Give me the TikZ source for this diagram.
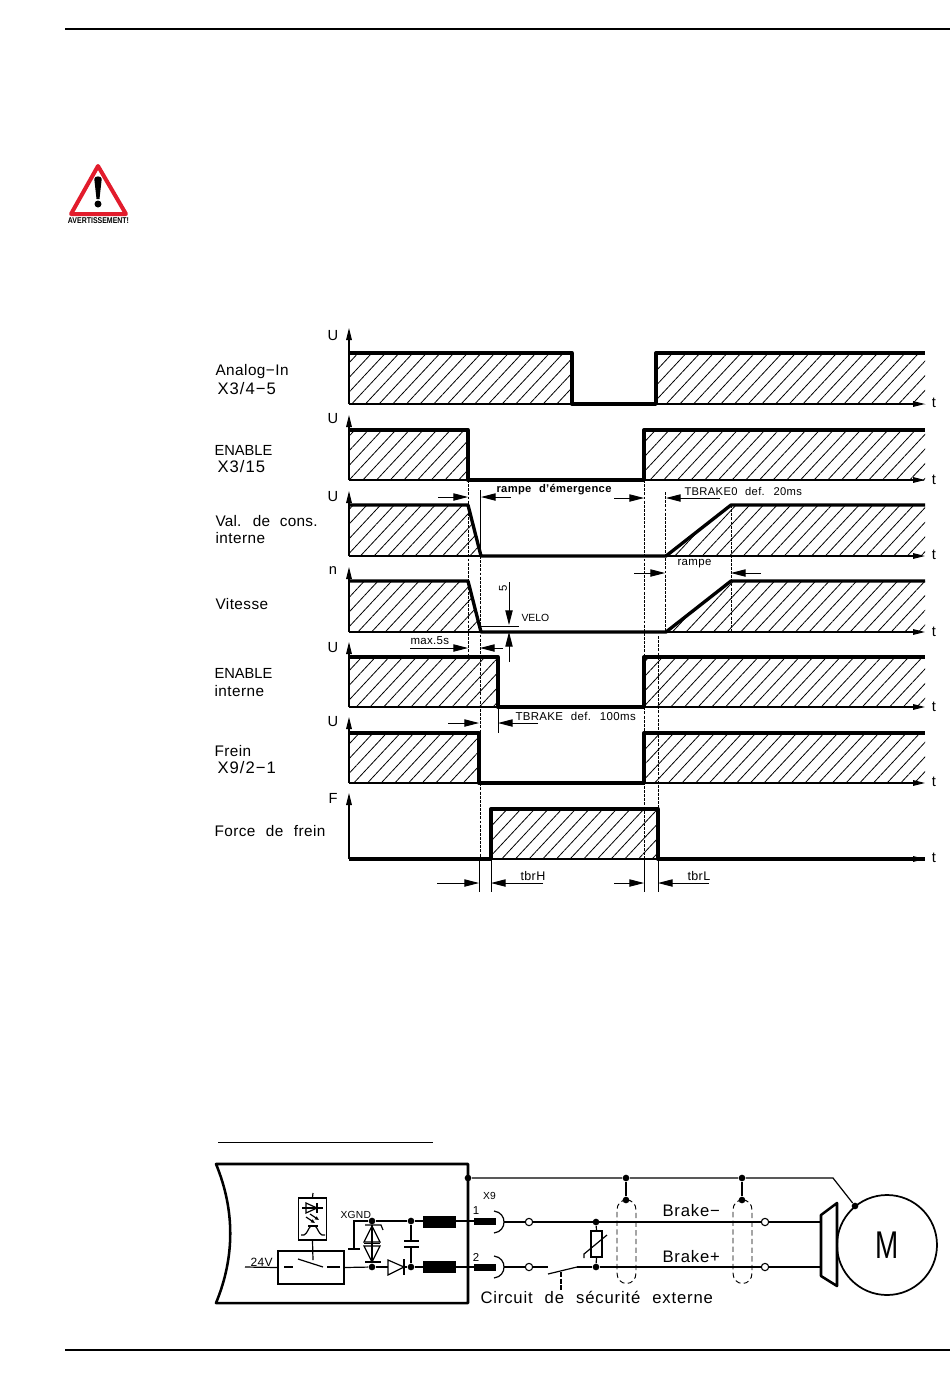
\documentclass[tikz,border=0pt]{standalone}
\usepackage{fontspec}
\setmainfont{Liberation Sans}[WordSpace=2.2,LetterSpace=3]
\newfontfamily\warnfont{Liberation Sans Bold}
\usetikzlibrary{arrows.meta,patterns.meta}
\tikzset{every picture/.style={line width=0.75pt},
  rule/.style={line width=1.5pt},
  wave/.style={line width=2.5pt,line join=round},
  hatch/.style={pattern={Lines[angle=47,distance=7.5pt,line width=0.6pt]},draw=none},
  axisarrow/.style={line width=0.8pt,-{Triangle[length=9pt,width=4.2pt]}},
  guide/.style={line width=0.7pt,dash pattern=on 2.2pt off 0.9pt},
  tick/.style={line width=0.7pt},
  dimarrow/.style={line width=0.7pt,-{Triangle[length=11pt,width=5.5pt]}},
  lbl/.style={anchor=west,inner sep=0pt,font=\fontsize{11.5pt}{13pt}\selectfont},
  lblx/.style={anchor=west,inner sep=0pt,font=\fontsize{12.5pt}{14pt}\selectfont\addfontfeature{LetterSpace=6}},
  lblcaps/.style={anchor=west,inner sep=0pt,font=\fontsize{11pt}{13pt}\selectfont\addfontfeature{LetterSpace=0}},
  lblw/.style={anchor=west,inner sep=0pt,font=\fontsize{12.5pt}{14pt}\selectfont\addfontfeature{LetterSpace=5}},
  small/.style={inner sep=0pt,font=\fontsize{8.6pt}{10pt}\selectfont},
  tiny/.style={inner sep=0pt,font=\fontsize{7.7pt}{9pt}\selectfont},
  axlbl/.style={inner sep=0pt,font=\fontsize{11pt}{13pt}\selectfont},
  wire/.style={line width=0.9pt},
  thickwire/.style={line width=1.9pt,line join=round},
  dot/.style={circle,fill=black,inner sep=0pt,minimum size=5pt},
  term/.style={circle,draw,fill=white,line width=0.8pt,inner sep=0pt,minimum size=5.5pt},
  choke/.style={fill=black,draw=none},
  shield/.style={line width=0.7pt,dashed,dash pattern=on 4pt off 2.5pt}}

\begin{document}
\begin{tikzpicture}[x=0.75pt,y=0.75pt,yscale=-1,xscale=1]
\useasboundingbox (0,0) rectangle (950,1397);

%Page rules
\draw [rule] (65,29) -- (950,29);
\draw [rule] (65,1350) -- (950,1350);

%Warning sign
\draw [draw={rgb,255:red,226;green,28;blue,44},fill=white,line width=3pt,line join=round] (98,166) -- (126,214) -- (71,214) -- cycle;
\fill (94.3,179) .. controls (94.3,175.5) and (101.7,175.5) .. (101.7,179) -- (99.5,199) -- (96.5,199) -- cycle;
\fill (98,204) circle (3.5);
\node (warntext) [inner sep=0pt] at (98.5,221) {\warnfont\fontsize{6.3pt}{7pt}\selectfont\addfontfeature{LetterSpace=0}\scalebox{0.83}[1]{AVERTISSEMENT!}};

%Hatched areas
\fill [hatch] (349,353) rectangle (572,404);
\fill [hatch] (656,353) rectangle (925,404);
\fill [hatch] (349,430) rectangle (468,480);
\fill [hatch] (644,430) rectangle (925,480);
\fill [hatch] (349,505) -- (468,505) -- (481,556) -- (349,556) -- cycle;
\fill [hatch] (666,556) -- (731,505) -- (925,505) -- (925,556) -- cycle;
\fill [hatch] (349,581) -- (468,581) -- (481,632) -- (349,632) -- cycle;
\fill [hatch] (666,632) -- (731,581) -- (925,581) -- (925,632) -- cycle;
\fill [hatch] (349,657) rectangle (498,707);
\fill [hatch] (644,657) rectangle (925,707);
\fill [hatch] (349,733) rectangle (479,783);
\fill [hatch] (644,733) rectangle (925,783);
\fill [hatch] (491,809) rectangle (658,859);

%Axes
\foreach \ybase/\ytop in {404/328,480/415,556/491,632/567,707/642,783/717,859/793}{
  \draw [axisarrow] (349,\ybase) -- (349,\ytop);
  \draw [axisarrow] (349,\ybase) -- (925,\ybase);
}

%Signals
\draw [wave] (349,353) -- (572,353) -- (572,404) -- (656,404) -- (656,353) -- (925,353);
\draw [wave] (349,430) -- (468,430) -- (468,480) -- (644,480) -- (644,430) -- (925,430);
\draw [wave] (349,505) -- (468,505) -- (481,556) -- (666,556) -- (731,505) -- (925,505);
\draw [wave] (349,581) -- (468,581) -- (481,632) -- (666,632) -- (731,581) -- (925,581);
\draw [wave] (349,657) -- (498,657) -- (498,707) -- (644,707) -- (644,657) -- (925,657);
\draw [wave] (349,733) -- (479,733) -- (479,783) -- (644,783) -- (644,733) -- (925,733);
\draw [wave] (349,859) -- (491,859) -- (491,809) -- (658,809) -- (658,859) -- (925,859);

%Guides
\draw [guide] (468,480) -- (468,657);
\draw [tick] (480.5,490) -- (480.5,556);
\draw [guide] (480,556) -- (480,859);
\draw [guide] (644,480) -- (644,859);
\draw [guide] (658,636) -- (658,809);
\draw [guide] (665.5,492) -- (665.5,632);
\draw [guide] (731,505) -- (731,632);
\draw [tick] (498,707) -- (498,733);
\draw [tick] (479.5,859) -- (479.5,892);
\draw [tick] (491,859) -- (491,892);
\draw [tick] (644,859) -- (644,892);
\draw [tick] (658,859) -- (658,892);

%Dimension arrows
\draw [dimarrow] (438,497) -- (468,497);
\draw [dimarrow] (511,497) -- (481,497);
\draw [dimarrow] (614,498) -- (644,498);
\draw [dimarrow] (720,498) -- (666,498);
\draw [dimarrow] (634,573) -- (665,573);
\draw [dimarrow] (761,573) -- (731,573);
\draw [dimarrow] (410,648) -- (468,648);
\draw [dimarrow] (503,648) -- (480,648);
\draw [dimarrow] (448,723) -- (479,723);
\draw [dimarrow] (538,723) -- (498,723);
\draw [dimarrow] (437,883) -- (479,883);
\draw [dimarrow] (543,883) -- (491,883);
\draw [dimarrow] (614,883) -- (644,883);
\draw [dimarrow] (709,883) -- (658,883);
\draw [dimarrow] (509,582) -- (509,625);
\draw [dimarrow] (509,662) -- (509,632);
\draw [tick] (480,626) -- (519,626);

% Text Node
\node (labanalog) [lbl] at (215,372) {Analog−In};
\node (labxa) [lblx] at (217,389) {X3/4−5};
\node (labenable) [lblcaps] at (214,450) {ENABLE};
\node (labxb) [lblx] at (217,467) {X3/15};
\node (labval) [lbl,font=\fontsize{11.5pt}{13pt}\selectfont\addfontfeature{LetterSpace=1.5}] at (215,521) {Val. de cons.};
\node (labint) [lbl] at (215,538) {interne};
\node (labvit) [lbl] at (215,604) {Vitesse};
\node (labenableb) [lblcaps] at (214,673) {ENABLE};
\node (labintb) [lbl] at (214,691) {interne};
\node (labfrein) [lbl] at (214,751) {Frein};
\node (labxc) [lblx] at (217,768) {X9/2−1};
\node (labforce) [lbl] at (214,831) {Force de frein};

\foreach \ylab/\txt [count=\i] in {336/U,419/U,497/U,571/n,648/U,722/U,798/F}{
  \node (axis\i) [axlbl] at (333,\ylab) {\txt};
}
\foreach \ylab [count=\i] in {403,480,555,632,707,782,858}{
  \node (time\i) [axlbl] at (934,\ylab) {t};
}

\node (labramp) [small,anchor=west,font=\fontsize{8.4pt}{10pt}\selectfont] at (496,490) {\textbf{rampe d'émergence}};
\node (labtbo) [small,anchor=west,font=\fontsize{8.4pt}{10pt}\selectfont] at (684,491) {TBRAKE0 def. 20ms};
\node (labrampe) [small,anchor=west] at (677,563.5) {rampe};
\node (labfive) [tiny,rotate=90,font=\fontsize{8.5pt}{10pt}\selectfont] at (503,588) {5};
\node (labvelo) [tiny,anchor=west,font=\fontsize{7.8pt}{9pt}\selectfont\addfontfeature{LetterSpace=0}] at (521,618) {VELO};
\node (labmax) [small,anchor=west] at (410,641) {max.5s};
\node (labtb) [small,anchor=west] at (515,716) {TBRAKE def. 100ms};
\node (labtbrh) [small,anchor=west,font=\fontsize{9.4pt}{11pt}\selectfont] at (520,876) {tbrH};
\node (labtbrl) [small,anchor=west,font=\fontsize{9.4pt}{11pt}\selectfont] at (687,876) {tbrL};

%Drive outline
\draw [rule,line width=0.75pt] (218,1142) -- (433,1142);
\draw [thickwire] (468,1164) -- (216,1164) .. controls (235,1210) and (235,1257) .. (216,1303) -- (468,1303) -- cycle;

%Named points of the circuit
\node (dotpe) [dot] at (468,1178) {};
\node (dotpea) [dot] at (626,1178) {};
\node (dotpeb) [dot] at (742,1178) {};
\node (dotsha) [dot] at (626,1200) {};
\node (dotshb) [dot] at (742,1200) {};
\node (dotm) [dot] at (855,1206) {};
\coordinate (bend) at (833,1178);
\node (dota) [dot] at (372,1221) {};
\node (dotb) [dot] at (372,1267) {};
\node (dotc) [dot] at (411,1221) {};
\node (dotd) [dot] at (411,1267) {};
\node (dote) [dot] at (596,1222) {};
\node (dotf) [dot] at (596,1267) {};
\node (terma) [term] at (529,1222) {};
\node (termb) [term] at (529,1267) {};
\node (termc) [term] at (765,1222) {};
\node (termd) [term] at (765,1267) {};
\coordinate (in24) at (245,1267);
\coordinate (socka) at (504,1222);
\coordinate (sockb) at (504,1267);
\coordinate (brakea) at (821,1222);
\coordinate (brakeb) at (821,1267);
\coordinate (swa) at (548,1267);
\coordinate (swb) at (577,1267);
\node (relay) [draw,wire,minimum width=66*0.75pt,minimum height=33*0.75pt,inner sep=0pt] at (311,1267.5) {};
\node (opto) [draw,wire,minimum width=28*0.75pt,minimum height=42*0.75pt,inner sep=0pt] at (312.5,1219) {};
\node (varistor) [draw,wire,fill=white,minimum width=11*0.75pt,minimum height=26*0.75pt,inner sep=0pt] at (596.5,1244) {};

%Wiring
\draw [wire] (dotpe) -- (dotpea) -- (dotpeb) -- (bend) -- (dotm);
\draw [wire] (dotpea) -- (dotsha);
\draw [wire] (dotpeb) -- (dotshb);
\draw [wire] (dota) -- (dotc) -- (496,1221);
\draw [wire] (in24) -- (relay.west);
\draw [wire] (relay.east) -- (dotb);
\draw [wire] (dotb) -- (388,1267);
\draw [wire] (404,1267) -- (dotd) -- (496,1267);
\draw [wire] (socka) -- (terma) -- (termc) -- (brakea);
\draw [wire] (sockb) -- (termb) -- (swa);
\draw [wire] (swb) -- (dotf) -- (termd) -- (brakeb);
\draw [wire] (548,1274) -- (swb);
\draw [wire,dashed,dash pattern=on 4pt off 1pt] (561,1272) -- (561,1290);
\draw [wire] (dote) -- (varistor.north);
\draw [wire] (varistor.south) -- (dotf);
\draw [wire] (584,1258) -- (584,1254) -- (607,1235);

%Chokes and pins
\fill [choke] (423,1215.5) rectangle (456,1227.5);
\fill [choke] (423,1261) rectangle (456,1273);
\fill [choke] (474,1218) rectangle (496,1225);
\fill [choke] (474,1263.5) rectangle (496,1270.5);
\draw [wire] (494,1211) .. controls (501,1212) and (504,1217) .. (504,1222) .. controls (504,1227) and (501,1232) .. (494,1233);
\draw [wire] (494,1256) .. controls (501,1257) and (504,1262) .. (504,1267) .. controls (504,1272) and (501,1277) .. (494,1278);

%Capacitor, diode, ground
\draw [wire] (dotc) -- (411,1241);
\draw [wire] (dotd) -- (411,1247);
\draw [wire] (404,1241) -- (419,1241);
\draw [wire] (404,1247) -- (419,1247);
\draw [wire] (388,1260) -- (388,1275) -- (404,1267) -- cycle;
\draw [wire] (404,1259) -- (404,1275);
\draw [wire] (dota) -- (354,1221) -- (354,1249);
\draw [wire] (348,1249) -- (360,1249);

%Suppressor
\draw [wire] (dota) -- (dotb);
\draw [wire] (372,1226) -- (380,1242) -- (364,1242) -- cycle;
\draw [wire] (372,1262) -- (380,1246) -- (364,1246) -- cycle;
\draw [wire] (365,1225) -- (381,1225) -- (383,1230);
\draw [wire] (364,1243.5) -- (380,1243.5);
\draw [wire] (365,1262) -- (381,1262);

%Opto coupler
\draw [wire] (313,1193) -- (opto.north);
\draw [wire] (opto.south) -- (313,1260);
\draw [wire] (302,1208) -- (323,1208);
\draw [wire] (306,1203) -- (306,1213) -- (317,1208) -- cycle;
\draw [wire] (317,1203) -- (317,1213);
\draw [line width=0.9pt,-{Triangle[length=3pt,width=2.5pt]}] (310,1214) -- (319,1220);
\draw [line width=0.9pt,-{Triangle[length=3pt,width=2.5pt]}] (306,1217) -- (315,1223);
\draw [wire] (301,1235) -- (304,1235) .. controls (308,1233) and (308,1228) .. (311,1226) -- (315,1226) .. controls (318,1228) and (318,1233) .. (322,1235) -- (325,1235);
\draw [wire] (308,1226) -- (318,1226);

%Relay contact
\draw [wire] (284,1267) -- (293,1267);
\draw [wire] (298,1259) -- (323,1267);
\draw [wire] (327,1267) -- (340,1267);

%Shield loops
\draw [shield] (626.5,1200) .. controls (621,1200) and (617,1204) .. (617,1210) -- (617,1273) .. controls (617,1279) and (621,1283.5) .. (626.5,1283.5) .. controls (632,1283.5) and (636,1279) .. (636,1273) -- (636,1210) .. controls (636,1204) and (632,1200) .. (626.5,1200);
\draw [shield] (742.5,1200) .. controls (737,1200) and (733,1204) .. (733,1210) -- (733,1273) .. controls (733,1279) and (737,1283.5) .. (742.5,1283.5) .. controls (748,1283.5) and (752,1279) .. (752,1273) -- (752,1210) .. controls (752,1204) and (748,1200) .. (742.5,1200);

%Motor and brake
\draw [thickwire] (821,1215) -- (837,1203) -- (837,1286) -- (821,1276) -- cycle;
\node (motor) [circle,draw,line width=1.3pt,minimum size=100*0.75pt,inner sep=0pt] at (887,1245) {\fontsize{29pt}{30pt}\selectfont\addfontfeature{LetterSpace=0}\scalebox{0.72}[1]{M}};

% Text Node
\node (labxnine) [tiny] at (489.5,1196) {X9};
\node (labone) [small] at (476,1211) {1};
\node (labtwo) [small] at (476,1257) {2};
\node (labxgnd) [tiny,anchor=west] at (340,1215) {XGND};
\node (labv) [small,anchor=west,font=\fontsize{9pt}{10pt}\selectfont] at (250,1262) {24V};
\node (labbm) [lblw] at (662,1211) {Brake−};
\node (labbp) [lblw] at (662,1257) {Brake+};
\node (labcirc) [lblw] at (480,1297) {Circuit de sécurité externe};

\end{tikzpicture}
\end{document}
